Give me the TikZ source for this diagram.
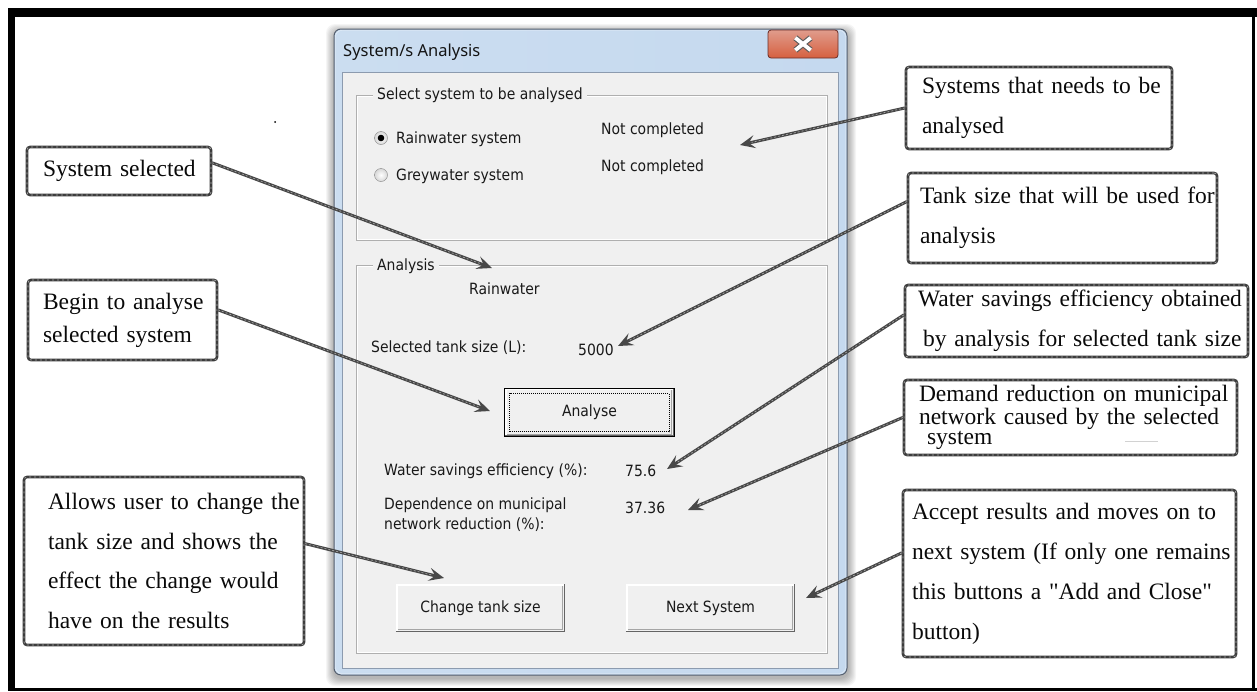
\documentclass[tikz,border=0pt]{standalone}
\usepackage{fontspec}
\setmainfont{Liberation Serif}[Ligatures=TeXOff]
\newfontfamily\uifont[FakeStretch=0.9]{DejaVu Sans}
\newfontfamily\titlefont{Noto Sans}
\usetikzlibrary{arrows.meta}
\newcommand\calloutsize[1]{\fontsize{23.5}{#1}\selectfont}
\newcommand\uisize{\fontsize{15.5}{20}\selectfont}

\definecolor{formbg}{RGB}{240,240,240}
\definecolor{pencilgrey}{RGB}{72,72,72}
\definecolor{specklegrey}{RGB}{165,165,165}
\definecolor{grpline}{RGB}{175,175,175}
\definecolor{btnshade}{RGB}{100,100,100}
\definecolor{btnmid}{RGB}{165,165,165}
\definecolor{uitext}{RGB}{25,25,25}
\definecolor{calloutline}{RGB}{60,60,60}
\definecolor{calloutink}{RGB}{10,10,10}
\definecolor{winedge}{RGB}{85,95,110}
\definecolor{winL}{RGB}{203,221,240}
\definecolor{winM}{RGB}{178,203,231}
\definecolor{winR}{RGB}{197,217,239}
\definecolor{clientedge}{RGB}{140,155,175}
\definecolor{closeedge}{RGB}{105,45,38}
\definecolor{closeT}{RGB}{224,156,140}
\definecolor{closeM}{RGB}{196,66,44}
\definecolor{closeB}{RGB}{214,96,64}
\definecolor{closeXedge}{RGB}{90,90,90}
\definecolor{radioedge}{RGB}{130,130,130}
\definecolor{radioout}{RGB}{215,215,215}
\definecolor{titleink}{RGB}{20,20,20}

\begin{document}
\begin{tikzpicture}[x=1pt,y=-1pt,
  callout/.style={draw=calloutline, line width=2.6pt, rounded corners=3pt,
    fill=white, align=left, inner ysep=0pt, text=calloutink,
    postaction={draw=specklegrey, line width=0.7pt, dash pattern=on 2pt off 3pt}},
  pencil/.style={draw=pencilgrey, line width=3pt, line cap=round,
    -{Stealth[length=15pt,width=13pt,inset=6pt]},
    postaction={draw=specklegrey, line width=0.7pt, dash pattern=on 1.5pt off 2.5pt, -, shorten >=12pt}},
  ui/.style={font=\uifont\uisize, text=uitext, inner sep=0pt},
  winbtn/.style={ui, fill=formbg, inner sep=0pt},
  grp/.style={draw=grpline, line width=1pt},
  radio/.style={draw=radioedge, inner color=white, outer color=radioout}
]
\useasboundingbox (0,0) rectangle (1257,691);
\fill[white] (0,0) rectangle (1257,691);

% page frame
\fill[black] (8,8) rectangle (1257,17);
\fill[black] (8,8) rectangle (15,691);
\fill[black] (1252,8) rectangle (1254.5,691);
\fill[black] (8,687.5) rectangle (1257,691);
\fill[black] (275,122) circle (1pt);

% ---------- dialog window ----------
\foreach \i in {1,...,8}
  \fill[black, opacity=0.04, rounded corners=9pt] (334-\i,29-\i+3) rectangle (848+\i,676+\i+2);
\draw[draw=winedge, line width=1pt, rounded corners=7pt,
  left color=winL, middle color=winM, right color=winR]
  (334,29) rectangle (847,675);
\draw[white, opacity=0.6, rounded corners=6pt] (335.5,30.5) rectangle (845.5,673.5);
\node[font=\titlefont\fontsize{16.5}{18}\selectfont, text=titleink, anchor=west, inner sep=0pt]
  (title) at (343,52) {System/s Analysis};

% close button
\draw[draw=closeedge, line width=0.8pt, rounded corners=3pt,
  top color=closeT, middle color=closeM, bottom color=closeB]
  (768,30) rectangle (838,58);
\node[inner sep=0pt, minimum width=15pt, minimum height=12pt] (closeX) at (803,44) {};
\draw[closeXedge, line width=6pt] (closeX.north west) -- (closeX.south east)
  (closeX.south west) -- (closeX.north east);
\draw[white, line width=3.8pt] (closeX.north west) -- (closeX.south east)
  (closeX.south west) -- (closeX.north east);

% client area
\draw[draw=clientedge, fill=formbg] (342,72) rectangle (838,668);

% group: system selection
\draw[grp] (356,95) rectangle (827,240);
\draw[white] (357,96) rectangle (826,239);
\node[ui, fill=formbg, inner xsep=4pt, anchor=west] (g1lab) at (373,95) {Select system to be analysed};
\draw[radio] (381,138) circle (6.5pt);
\fill[black] (381,138) circle (3.3pt);
\draw[radio] (381,175) circle (6.5pt);
\node[ui, anchor=west] (rain) at (396,139) {Rainwater system};
\node[ui, anchor=west] (grey) at (396,176) {Greywater system};
\node[ui, anchor=west] (nc1) at (601,130) {Not completed};
\node[ui, anchor=west] (nc2) at (601,167) {Not completed};

% group: analysis
\draw[grp] (356,265) rectangle (827,653);
\draw[white] (357,266) rectangle (826,652);
\node[ui, fill=formbg, inner xsep=4pt, anchor=west] (g2lab) at (373,266) {Analysis};
\node[ui, anchor=west] (sysname) at (469,289) {Rainwater};
\node[ui, anchor=west] (tanklab) at (371,348) {Selected tank size (L):};
\node[ui, anchor=west] (tankval) at (578,350) {5000};
\node[ui, anchor=west] (wselab) at (384,471) {Water savings efficiency (\%):};
\node[ui, anchor=west] (wseval) at (625,471) {75.6};
\node[ui, anchor=north west, align=left] (deplab) at (384,498) {Dependence on municipal\\network reduction (\%):};
\node[ui, anchor=west] (depval) at (625,508) {37.36};

% buttons
\node[winbtn, minimum width=169pt, minimum height=48pt] (ana) at (589.5,412.5) {Analyse};
\node[winbtn, minimum width=169pt, minimum height=48pt] (chg) at (480.5,608) {Change tank size};
\node[winbtn, minimum width=169pt, minimum height=48pt] (nxt) at (710.5,608) {Next System};
\foreach \b in {ana,chg,nxt}{
  \draw[white, line width=1.5pt] ([shift={(1,-1)}]\b.south west) |- ([shift={(-1,1)}]\b.north east);
  \draw[btnmid, line width=1pt] ([shift={(2,-2.5)}]\b.south west) -| ([shift={(-2.5,2)}]\b.north east);
  \draw[btnshade, line width=1.6pt] ([shift={(0,-0.8)}]\b.south west) -| ([shift={(-0.8,0)}]\b.north east);
}
\draw[black, line width=1pt] (ana.south west) rectangle (ana.north east);
\draw[black, line width=0.7pt, dash pattern=on 1pt off 1pt] ([shift={(5,-5)}]ana.south west) rectangle ([shift={(-5,5)}]ana.north east);

% ---------- callouts ----------
\node[callout, font=\calloutsize{40}, minimum width=184pt, minimum height=48pt, text width=152pt, inner xsep=16pt]
  (selbox) at (119,171) {\mbox{System selected}};
\node[callout, font=\calloutsize{40}, minimum width=266pt, minimum height=82pt, text width=234pt, inner xsep=16pt]
  (sysbox) at (1039,108) {\mbox{Systems that needs to be}\\\mbox{analysed}};
\node[callout, font=\calloutsize{40}, minimum width=309pt, minimum height=90pt, text width=285pt, inner xsep=12pt]
  (tankbox) at (1062.5,218) {\mbox{Tank size that will be used for}\\\mbox{analysis}};
\node[callout, font=\calloutsize{33}, minimum width=189pt, minimum height=80pt, text width=159pt, inner xsep=15pt]
  (begbox) at (122.5,320) {\mbox{Begin to analyse}\\\mbox{selected system}};
\node[callout, font=\calloutsize{39.5}, minimum width=280pt, minimum height=168pt, text width=232pt, inner xsep=24pt]
  (allbox) at (164,561) {\mbox{Allows user to change the}\\\mbox{tank size and shows the}\\\mbox{effect the change would}\\\mbox{have on the results}};
\node[callout, font=\calloutsize{40}, minimum width=343pt, minimum height=72pt, text width=317pt, inner xsep=13pt]
  (watbox) at (1076.5,321) {\mbox{Water savings efficiency obtained}\\\mbox{\hspace{5pt}by analysis for selected tank size}};
\node[callout, font=\calloutsize{20.5}, minimum width=333pt, minimum height=75pt, text width=303pt, inner xsep=15pt]
  (dembox) at (1070.5,417.5) {\mbox{Demand reduction on municipal}\\\mbox{network caused by the selected}\\\mbox{\hspace{8pt}system}};
\draw[gray!35, line width=1pt] (1125,441) -- (1158,441);
\node[callout, font=\calloutsize{40}, minimum width=333pt, minimum height=167pt, text width=315pt, inner xsep=9pt]
  (accbox) at (1069.5,573.5) {\mbox{Accept results and moves on to}\\\mbox{next system (If only one remains}\\\mbox{this buttons a "Add and Close"}\\\mbox{button)}};

% ---------- pointers ----------
\coordinate (tSel) at (492,268);
\coordinate (tSys) at (740,145);
\coordinate (tTank) at (618,346);
\coordinate (tBeg) at (490,411);
\coordinate (tWat) at (667,469);
\coordinate (tDem) at (688,510);
\coordinate (tAll) at (444,578);
\coordinate (tAcc) at (806,598);

\draw[pencil] (selbox.5) -- (tSel);
\draw[pencil] (sysbox.west) -- (tSys);
\draw[pencil] (tankbox.174) -- (tTank);
\draw[pencil] (begbox.6) -- (tBeg);
\draw[pencil] (watbox.178) -- (tWat);
\draw[pencil] (dembox.west) -- (tDem);
\draw[pencil] (allbox.7) -- (tAll);
\draw[pencil] (accbox.173) -- (tAcc);
\end{tikzpicture}
\end{document}
